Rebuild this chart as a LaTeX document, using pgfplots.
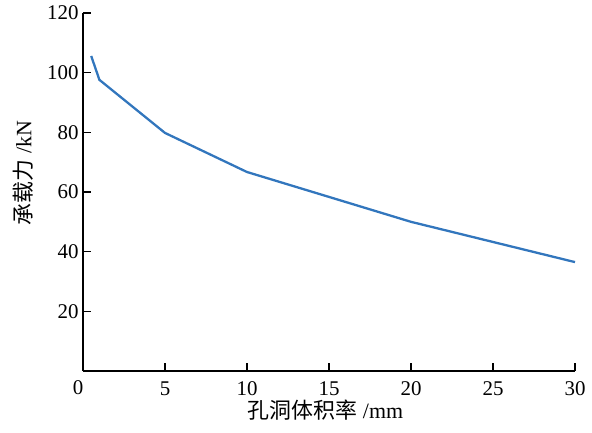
\documentclass[border=0pt]{standalone}
\usepackage{fontspec}
\setmainfont{Liberation Serif}
\newfontfamily\cjk{Noto Sans CJK SC}
\usepackage{pgfplots}
\pgfplotsset{compat=1.18}
\usetikzlibrary{calc}
\definecolor{lineblue}{RGB}{50,118,189}

\begin{document}
\begin{tikzpicture}
\begin{axis}[
  scale only axis,
  width=492bp,
  height=358bp,
  xmin=0, xmax=30,
  ymin=0, ymax=120,
  axis lines=left,
  axis line style={-, line width=1.5pt, black},
  every tick/.style={black, line width=1.5pt},
  tick align=inside,
  major tick length=8bp,
  xtick={5,10,15,20,25,30},
  ytick={20,40,60,80,100,120},
  extra x ticks={0},
  extra x tick style={major tick length=0pt, xticklabel style={xshift=-5bp, yshift=1bp}},
  tick label style={font=\fontsize{21}{23}\selectfont},
  /pgf/number format/assume math mode=true,
  xticklabel style={yshift=-7bp},
  yticklabel style={xshift=-1bp},
  xlabel={{\cjk 孔洞体积率}\ /mm},
  ylabel={{\cjk 承载力}\ /kN},
  label style={font=\fontsize{22}{24}\selectfont},
  xlabel style={at={(axis description cs:0.493,-0.109)}, anchor=center},
  ylabel style={at={(axis description cs:-0.122,0.553)}, anchor=center},
  clip=false,
]
\addplot[color=lineblue, line width=2.3pt] coordinates {
  (0.5, 105.6)
  (1, 97.6)
  (5, 79.8)
  (10, 66.7)
  (20, 50.0)
  (30, 36.5)
};
\coordinate (ll) at (rel axis cs:0,0);
\coordinate (ur) at (rel axis cs:1,1);
\end{axis}
\pgfresetboundingbox
\path ($(ll)+(-83bp,-62bp)$) rectangle ($(ur)+(17bp,13bp)$);
\end{tikzpicture}
\end{document}
